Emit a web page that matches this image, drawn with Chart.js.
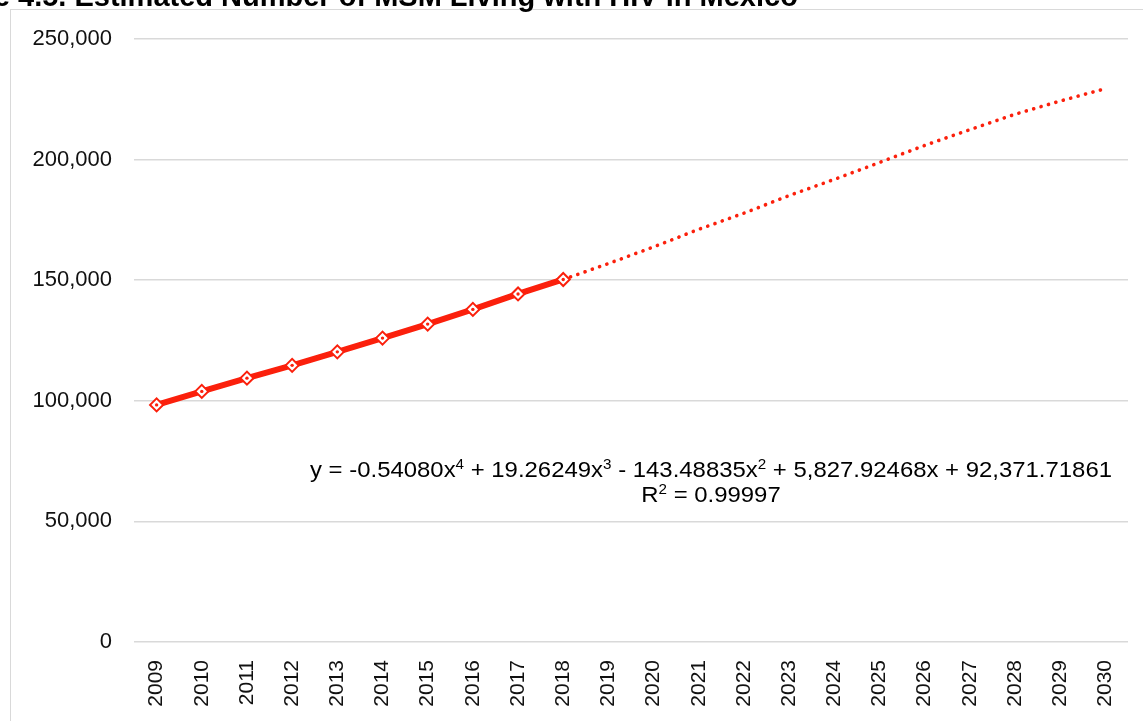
<!DOCTYPE html>
<html>

<head>
  <meta charset="UTF-8">
  <style>
    body { margin: 0; background: #fff; }
    canvas { display: block; }
  </style>
</head>

<body>
  <canvas id="msmChart" width="1143" height="721"></canvas>

  <script src="https://cdn.jsdelivr.net/npm/chart.js@4.4.0/dist/chart.umd.min.js"></script>
  <script>
    const years = ["2009", "2010", "2011", "2012", "2013", "2014", "2015", "2016", "2017", "2018", "2019",
      "2020", "2021", "2022", "2023", "2024", "2025", "2026", "2027", "2028", "2029", "2030"]
    const msmValues = [98300, 103900, 109400, 114700, 120300, 126000, 131800, 137900, 144300, 150300]
    const trendValues = [null, null, null, null, null, null, null, null, null,
      150300, 156900, 163800, 171100, 177800, 185100, 191800, 198800, 205900, 212400, 218800, 224300, 229400]
    const yTicks = [0, 50000, 100000, 150000, 200000, 250000]

    const titleText = "Figure 4.5. Estimated Number of MSM Living with HIV in Mexico"
    const equationParts = [["y = -0.54080x", 0], ["4", 1], [" + 19.26249x", 0], ["3", 1], [" - 143.48835x", 0], ["2", 1],
      [" + 5,827.92468x + 92,371.71861", 0]]
    const r2Parts = [["R", 0], ["2", 1], [" = 0.99997", 0]]

    const red = "#fb200c"
    const font = "'Liberation Sans', Arial, sans-serif"

    function partsWidth(ctx, parts) {
      let w = 0
      for (const [t, sup] of parts) {
        ctx.font = (sup ? "14px " : "22px ") + font
        w += ctx.measureText(t).width
      }
      return w
    }

    function drawParts(ctx, parts, cx, cy, sx) {
      const w = partsWidth(ctx, parts)
      ctx.save()
      ctx.translate(cx, cy)
      ctx.scale(sx, 1)
      let x = -w / 2
      for (const [t, sup] of parts) {
        ctx.font = (sup ? "14px " : "22px ") + font
        ctx.fillText(t, x, sup ? -6 : 0)
        x += ctx.measureText(t).width
      }
      ctx.restore()
    }

    const decorations = {
      id: "decorations",
      beforeDraw(chart) {
        const ctx = chart.ctx
        ctx.save()
        ctx.strokeStyle = "#d9d9d9"
        ctx.lineWidth = 1
        ctx.strokeRect(10.5, 9.5, 1300, 900)
        ctx.restore()
      },
      afterDraw(chart) {
        const ctx = chart.ctx
        ctx.save()
        ctx.fillStyle = "#000"
        ctx.font = "bold 29px " + font
        ctx.textBaseline = "alphabetic"
        const off = ctx.measureText("Figure ").width
        ctx.fillText(titleText, 18 - off, 6)

        // trendline label
        ctx.textBaseline = "middle"
        const sx = 802 / partsWidth(ctx, equationParts)
        drawParts(ctx, equationParts, 711, 471, sx)
        drawParts(ctx, r2Parts, 711, 496, sx)
        ctx.restore()
      }
    }

    const ctx = document.getElementById("msmChart").getContext("2d")

    const chart = new Chart(ctx, {
      type: "line",
      data: {
        labels: years,
        datasets: [
          {
            label: "centre",
            data: msmValues,
            showLine: false,
            pointStyle: "circle",
            pointRadius: 1.7,
            pointBackgroundColor: red,
            pointBorderWidth: 0,
            order: 0
          },
          {
            label: "MSM living with HIV",
            data: msmValues,
            borderColor: red,
            borderWidth: 6,
            pointStyle: "rectRot",
            pointRadius: 6.5,
            pointBorderWidth: 2,
            pointBorderColor: red,
            pointBackgroundColor: "#fff",
            order: 1
          },
          {
            label: "Poly. trend",
            data: trendValues,
            borderColor: red,
            borderWidth: 3.6,
            borderDash: [0.1, 7.6],
            borderCapStyle: "round",
            pointRadius: 0,
            order: 2
          }
        ]
      },
      options: {
        responsive: false,
        animation: false,
        devicePixelRatio: 1,
        layout: { padding: { top: 39, right: 15, left: 0, bottom: 0 } },
        plugins: {
          legend: { display: false },
          tooltip: { enabled: false }
        },
        scales: {
          x: {
            offset: true,
            grid: { display: false },
            border: { display: false },
            ticks: {
              autoSkip: false,
              maxRotation: 90,
              minRotation: 90,
              padding: 10,
              color: "#111",
              font: { family: font, size: 21 }
            },
            afterFit(scale) { scale.height = 79 }
          },
          y: {
            min: 0,
            max: 250000,
            afterBuildTicks(scale) { scale.ticks = yTicks.map(v => ({ value: v })) },
            grid: { color: "#d9d9d9", lineWidth: 1.5, drawTicks: false },
            border: { display: false },
            ticks: {
              padding: 22,
              color: "#111",
              font: { family: font, size: 22 },
              callback: v => v.toLocaleString("en-US")
            },
            afterFit(scale) { scale.width = 134 }
          }
        }
      },
      plugins: [decorations]
    })
  </script>
</body>
</html>
